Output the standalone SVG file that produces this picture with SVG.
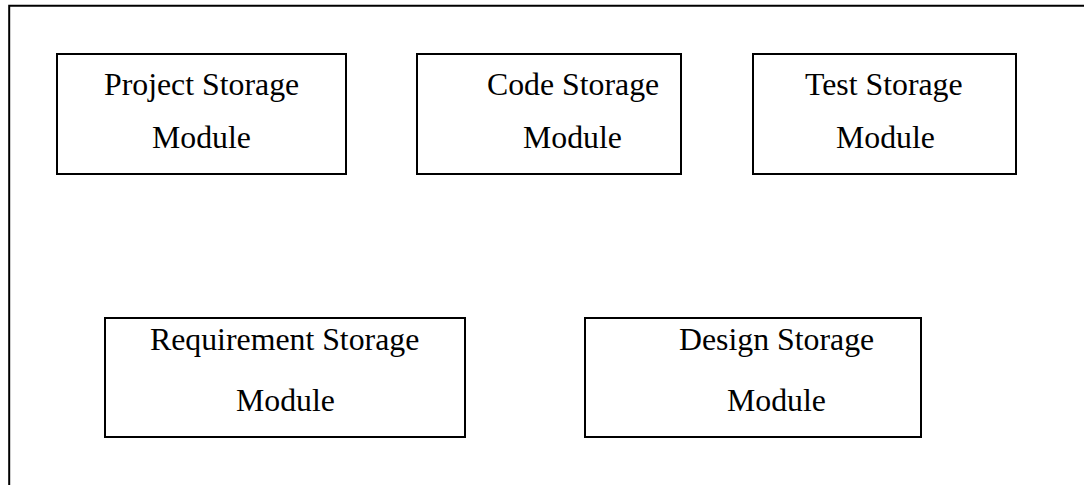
<svg xmlns="http://www.w3.org/2000/svg" width="1084" height="485" viewBox="0 0 1084 485">
  <style>
    .box { fill: #ffffff; stroke: #000000; stroke-width: 2; }
    .frame { fill: none; stroke: #000000; stroke-width: 2; }
    .lbl { font-family: "Liberation Serif", "Times New Roman", serif; font-size: 31.8px; fill: #000000; }
  </style>
  <rect width="1084" height="485" fill="#ffffff"/>

  <!-- open outer frame: top and left edges only -->
  <path class="frame" d="M9.2,485 L9.2,5.8 L1084,5.8"/>

  <g id="project-storage">
    <rect class="box" x="57" y="54" width="289" height="120"/>
    <text class="lbl" x="104" y="95">Project Storage</text>
    <text class="lbl" x="152" y="148">Module</text>
  </g>

  <g id="code-storage">
    <rect class="box" x="417" y="54" width="264" height="120"/>
    <text class="lbl" x="487" y="95">Code Storage</text>
    <text class="lbl" x="523" y="148">Module</text>
  </g>

  <g id="test-storage">
    <rect class="box" x="753" y="54" width="263" height="120"/>
    <text class="lbl" x="805" y="95">Test Storage</text>
    <text class="lbl" x="836" y="148">Module</text>
  </g>

  <g id="requirement-storage">
    <rect class="box" x="105" y="318" width="360" height="119"/>
    <text class="lbl" x="150" y="350">Requirement Storage</text>
    <text class="lbl" x="236" y="411">Module</text>
  </g>

  <g id="design-storage">
    <rect class="box" x="585" y="318" width="336" height="119"/>
    <text class="lbl" x="679" y="350">Design Storage</text>
    <text class="lbl" x="727" y="411">Module</text>
  </g>

  <g id="connectors"></g>
</svg>
